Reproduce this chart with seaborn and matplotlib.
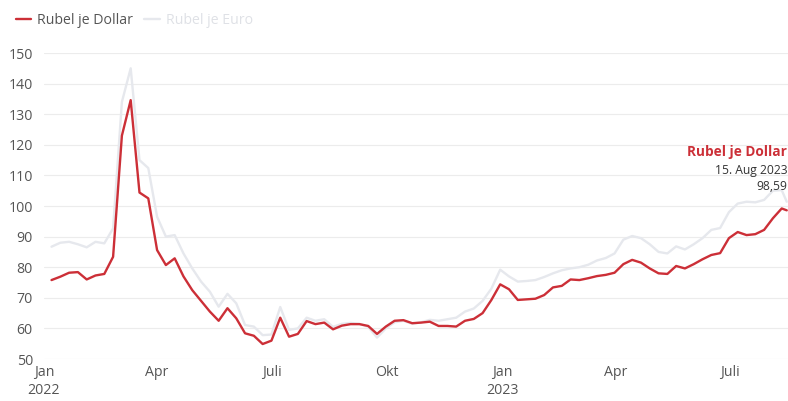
# ===============================
# Step 1: Import Required Libraries
# ===============================
import pandas as pd
import matplotlib.pyplot as plt
import seaborn as sns

# ===============================
# Step 2: Data
# ===============================
# weekly values from 7 Jan 2022, last point is 15 Aug 2023
weekly_dates = list(pd.date_range("2022-01-07", periods=84, freq="7D"))
last_date = pd.Timestamp("2023-08-15")

rubel_dollar = [
    75.8, 76.9, 78.2, 78.4, 76.0, 77.3, 77.8, 83.4, 123.0, 134.6,
    104.4, 102.5, 85.6, 80.7, 82.9, 77.0, 72.5, 69.0, 65.5, 62.5,
    66.6, 63.3, 58.4, 57.6, 54.9, 56.0, 63.5, 57.3, 58.2, 62.4,
    61.4, 61.9, 59.7, 60.9, 61.4, 61.4, 60.8, 58.2, 60.6, 62.5,
    62.7, 61.7, 61.9, 62.2, 60.8, 60.8, 60.6, 62.5, 63.1, 65.0,
    69.3, 74.4, 72.8, 69.3, 69.5, 69.7, 70.9, 73.4, 73.9, 76.0,
    75.8, 76.4, 77.1, 77.5, 78.2, 81.0, 82.4, 81.5, 79.6, 78.0,
    77.8, 80.4, 79.6, 81.0, 82.6, 84.0, 84.6, 89.5, 91.5, 90.5,
    90.8, 92.2, 96.0, 99.2, 98.59,
]
rubel_euro = [
    86.7, 88.0, 88.3, 87.5, 86.5, 88.3, 87.8, 92.7, 134.0, 145.0,
    115.0, 112.4, 96.5, 90.0, 90.5, 84.5, 79.6, 75.3, 72.0, 67.1,
    71.3, 68.2, 61.1, 60.6, 57.8, 58.0, 67.0, 59.5, 60.0, 63.5,
    62.5, 63.0, 60.5, 61.5, 61.8, 61.5, 60.5, 57.0, 60.0, 62.0,
    62.5, 61.5, 62.0, 62.8, 62.5, 63.0, 63.5, 65.5, 66.5, 69.0,
    73.0, 79.2, 77.0, 75.3, 75.5, 75.8, 76.8, 78.0, 79.0, 79.6,
    80.0, 80.8, 82.2, 83.0, 84.5, 89.0, 90.2, 89.5, 87.5, 85.0,
    84.5, 86.8, 85.8, 87.5, 89.5, 92.2, 92.8, 98.0, 100.8, 101.4,
    101.2, 102.0, 105.0, 105.2, 101.4,
]

y_ticks = [50, 60, 70, 80, 90, 100, 110, 120, 130, 140, 150]
x_tick_dates = ["2022-01-01", "2022-04-01", "2022-07-01", "2022-10-01",
                "2023-01-01", "2023-04-01", "2023-07-01"]
x_tick_labels = ["Jan\n2022", "Apr", "Juli", "Okt", "Jan\n2023", "Apr", "Juli"]

df = pd.DataFrame({
    "Datum": weekly_dates + [last_date],
    "Rubel je Dollar": rubel_dollar,
    "Rubel je Euro": rubel_euro,
})

# ===============================
# Step 3: Style
# ===============================
sns.set_theme(style="white")
plt.rcParams["font.family"] = ["Open Sans", "DejaVu Sans"]

RED = "#cc2f37"
GREY_LINE = "#e6e8ed"
TEXT = "#555555"

fig = plt.figure(figsize=(7.88, 4.01), dpi=100)
ax = fig.add_axes([0.0558, 0.1047, 0.9442, 0.7631])

# ===============================
# Step 4: Plot lines
# ===============================
sns.lineplot(data=df, x="Datum", y="Rubel je Euro", ax=ax, color=GREY_LINE,
             linewidth=1.7, label="Rubel je Euro", zorder=2)
sns.lineplot(data=df, x="Datum", y="Rubel je Dollar", ax=ax, color=RED,
             linewidth=1.7, label="Rubel je Dollar", zorder=3)

ax.set_ylim(50, 150)
ax.set_xlim(pd.Timestamp("2022-01-01"), pd.Timestamp("2023-08-16"))
ax.set_yticks(y_ticks)
ax.set_xticks([pd.Timestamp(d) for d in x_tick_dates])
ax.set_xticklabels(x_tick_labels, linespacing=1.35)
ax.set_xlabel("")
ax.set_ylabel("")

ax.grid(axis="y", color="#ececec", linewidth=0.8)
ax.set_axisbelow(True)
for side in ax.spines.values():
    side.set_visible(False)
ax.tick_params(axis="both", length=0, labelsize=10.2, labelcolor=TEXT)
ax.tick_params(axis="y", pad=8)
ax.tick_params(axis="x", pad=4)

# ===============================
# Step 5: Legend (Dollar first, Euro second)
# ===============================
handles, labels = ax.get_legend_handles_labels()
order = [labels.index("Rubel je Dollar"), labels.index("Rubel je Euro")]
ax.get_legend().remove()
leg = fig.legend([handles[i] for i in order], [labels[i] for i in order],
                 loc="upper left", bbox_to_anchor=(0.004, 1.0), ncol=2,
                 frameon=False, fontsize=10.2, handlelength=1.1,
                 handletextpad=0.4, columnspacing=0.8)
leg.get_texts()[0].set_color(TEXT)
leg.get_texts()[1].set_color("#dfe1e6")

# ===============================
# Step 6: End-point annotation
# ===============================
last_val = df["Rubel je Dollar"].iloc[-1]
fig.text(0.999, 0.620, "Rubel je Dollar", ha="right", va="center",
         color=RED, fontsize=9.8, fontweight="bold")
fig.text(0.999, 0.576, "15. Aug 2023", ha="right", va="center",
         color="#333333", fontsize=8.7)
fig.text(0.999, 0.535, f"{last_val:.2f}".replace(".", ","), ha="right",
         va="center", color="#333333", fontsize=8.7)

fig.savefig("out.png", dpi=100)
plt.close(fig)
